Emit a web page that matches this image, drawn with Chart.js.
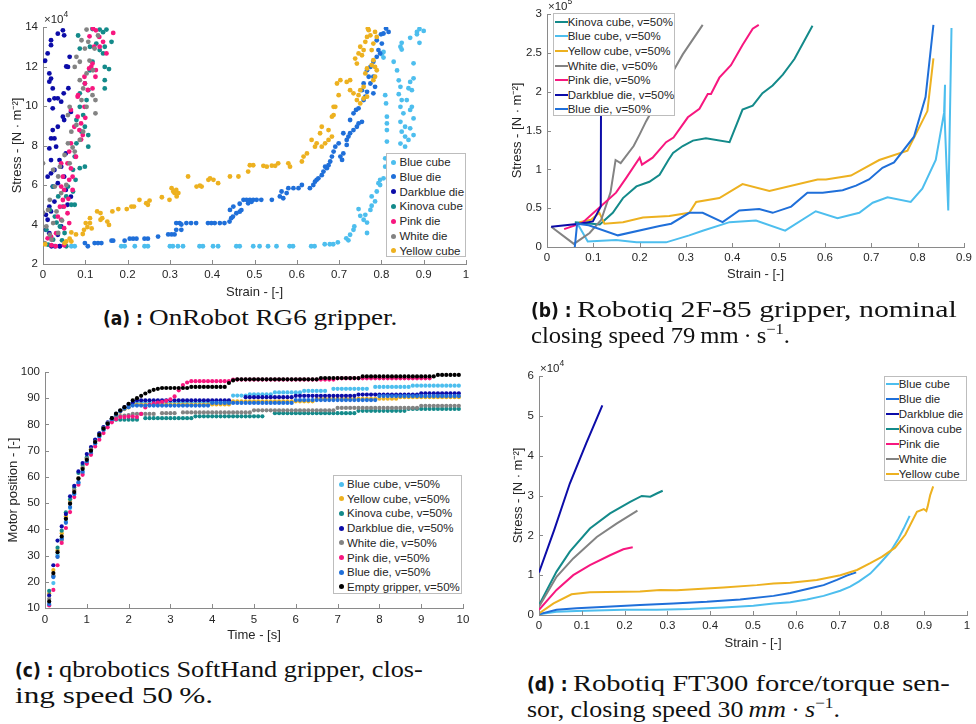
<!DOCTYPE html>
<html>
<head>
<meta charset="utf-8">
<title>Gripper stress-strain</title>
<script src="https://cdn.jsdelivr.net/npm/chart.js@4.4.1/dist/chart.umd.min.js"></script>
<style>
  body { margin: 0; background: #fff; width: 976px; height: 724px; position: relative; overflow: hidden;
         font-family: "Liberation Sans", Arial, sans-serif; }
  canvas { position: absolute; }
  .legend { position: absolute; background: #fff; border: 1px solid #bdbdbd; box-sizing: border-box; color: #262626; z-index: 2; }
  .cap { position: absolute; font-family: "Liberation Serif", "Times New Roman", serif; font-size: 22.5px;
         line-height: 26px; color: #111; white-space: nowrap; }
  .cap b { font-family: "DejaVu Sans Condensed", "DejaVu Sans", sans-serif; font-stretch: condensed; font-size: 19px; }
  .cap .t { display: inline-block; transform-origin: 0 50%; }
  .cap sup { font-size: 15px; line-height: 0; vertical-align: 9px; }
</style>
</head>
<body>
<canvas id="ca" width="480" height="300" style="left:0;top:0"></canvas>
<canvas id="cb" width="486" height="300" style="left:490px;top:0"></canvas>
<canvas id="cc" width="480" height="300" style="left:0;top:355px"></canvas>
<canvas id="cd" width="486" height="300" style="left:490px;top:355px"></canvas>

<!-- captions: data-end is the right edge each line reaches in the typeset figure -->
<div class="cap" data-end="397" style="left:103px;top:305px"><b>(a) :</b> <span class="t">OnRobot RG6 gripper.</span></div>
<div class="cap" data-end="957" style="left:531px;top:297px"><b>(b) :</b> <span class="t">Robotiq 2F-85 gripper, nominal</span></div>
<div class="cap" data-end="790" style="left:531px;top:323px"><span class="t">closing speed 79&thinsp;mm&thinsp;·&thinsp;s<sup>−1</sup>.</span></div>
<div class="cap" data-end="423" style="left:15px;top:657px"><b>(c) :</b> <span class="t">qbrobotics SoftHand gripper, clos-</span></div>
<div class="cap" data-end="213" style="left:15px;top:683px"><span class="t">ing speed 50&thinsp;%.</span></div>
<div class="cap" data-end="950" style="left:527px;top:671px"><b>(d) :</b> <span class="t">Robotiq FT300 force/torque sen-</span></div>
<div class="cap" data-end="840" style="left:527px;top:697px"><span class="t">sor, closing speed 30&thinsp;<i>mm</i>&thinsp;·&thinsp;<i>s</i><sup>−1</sup>.</span></div>

<script>
// colours used in every panel
const colBlueCube = '#4dbeee';
const colBlueDie = '#1f6fd9';
const colDarkblue = '#0c0ca8';
const colKinova = '#138a8a';
const colPink = '#f7177f';
const colWhite = '#838383';
const colYellow = '#edb120';
const colEmpty = '#000000';

// ---------- (a) OnRobot RG6: [strain, stress x1e4] ----------
const aBlueCube = [[0.067,2.9],[0.075,2.9],[0.185,2.9],[0.193,2.9],[0.217,2.9],[0.24,2.9],[0.248,2.9],[0.3,2.9],[0.307,2.9],
  [0.319,2.9],[0.331,2.9],[0.37,2.9],[0.378,2.9],[0.402,2.9],[0.414,2.9],[0.457,2.9],[0.465,2.9],[0.497,2.9],[0.512,2.9],
  [0.532,2.9],[0.552,2.9],[0.583,2.9],[0.591,2.9],[0.634,2.9],[0.642,2.9],[0.666,3.0],[0.678,3.0],[0.686,3.0],[0.697,3.1],
  [0.717,3.3],[0.722,3.2],[0.726,3.48],[0.734,3.73],[0.736,3.9],[0.746,4.78],[0.75,4.44],[0.758,4.24],[0.762,4.49],[0.766,3.57],
  [0.766,4.1],[0.774,4.74],[0.777,4.95],[0.777,5.42],[0.785,5.17],[0.789,5.67],[0.793,6.09],[0.797,6.26],[0.805,6.34],[0.797,6.0],
  [0.809,6.93],[0.809,7.35],[0.813,8.2],[0.813,8.78],[0.813,9.12],[0.813,9.46],[0.811,10.13],[0.809,10.55],[0.805,12.45],
  [0.805,12.74],[0.801,12.62],[0.829,12.24],[0.837,11.8],[0.841,11.3],[0.845,10.97],[0.841,10.6],[0.848,10.3],[0.845,9.96],
  [0.852,9.63],[0.845,9.2],[0.856,8.95],[0.848,8.7],[0.856,8.45],[0.845,8.1],[0.856,7.94],[0.864,8.28],[0.868,8.87],[0.868,9.8],
  [0.86,10.3],[0.864,10.9],[0.868,11.22],[0.872,10.8],[0.876,11.4],[0.876,12.16],[0.872,9.96],[0.876,9.37],[0.876,8.53],
  [0.864,7.44],[0.845,13.0],[0.848,13.2],[0.868,13.45],[0.884,13.75],[0.89,13.9],[0.9,13.8],[0.89,13.2],[0.884,13.63],[0.848,12.86]];
const aBlueDie = [[0.028,2.9],[0.039,2.9],[0.099,3.06],[0.106,2.9],[0.122,3.06],[0.13,3.06],[0.138,3.06],[0.162,3.18],[0.166,3.18],
  [0.193,3.18],[0.205,3.28],[0.213,3.28],[0.221,3.28],[0.24,3.28],[0.248,3.28],[0.272,3.39],[0.296,3.5],[0.304,3.5],[0.311,3.5],
  [0.315,3.73],[0.327,3.73],[0.315,4.07],[0.323,4.07],[0.327,4.0],[0.339,4.07],[0.35,4.07],[0.362,4.07],[0.39,4.07],[0.398,4.07],
  [0.406,4.07],[0.418,4.07],[0.429,4.07],[0.441,4.15],[0.445,4.32],[0.449,4.4],[0.457,4.57],[0.465,4.65],[0.469,4.73],[0.465,5.05],
  [0.474,5.25],[0.481,5.25],[0.489,5.25],[0.497,5.25],[0.485,5.07],[0.493,5.15],[0.505,5.25],[0.516,5.25],[0.442,4.74],[0.45,4.91],
  [0.541,5.25],[0.56,5.42],[0.564,5.67],[0.568,5.33],[0.576,5.59],[0.58,5.84],[0.592,5.84],[0.604,5.84],[0.612,6.0],[0.631,5.84],
  [0.639,6.0],[0.643,6.17],[0.647,6.26],[0.651,6.34],[0.659,6.5],[0.663,6.68],[0.667,6.93],[0.671,6.85],[0.675,7.0],[0.679,7.19],
  [0.683,7.44],[0.687,7.69],[0.691,7.94],[0.699,8.11],[0.703,7.44],[0.707,7.27],[0.71,7.6],[0.718,8.28],[0.722,8.45],[0.726,8.62],
  [0.734,8.78],[0.742,8.95],[0.746,9.12],[0.754,9.2],[0.726,9.29],[0.734,9.63],[0.74,9.8],[0.746,9.88],[0.758,10.3],[0.762,10.47],
  [0.766,10.72],[0.774,11.14],[0.77,11.48],[0.766,11.81],[0.774,11.98],[0.781,12.24],[0.789,12.49],[0.797,12.66],[0.793,12.83],
  [0.801,13.16],[0.805,13.67],[0.811,13.92],[0.817,13.75],[0.781,11.48],[0.785,10.97],[0.781,10.64],[0.754,10.8],[0.758,11.14],
  [0.71,8.62],[0.718,8.03],[0.789,13.33],[0.799,13.63]];
const aDarkblueDie = [[0.047,13.83],[0.05,13.58],[0.035,13.66],[0.019,13.33],[0.019,13.08],[0.011,12.66],[0.005,12.29],[0.015,11.65],
  [0.019,11.39],[0.015,11.23],[0.023,10.89],[0.015,10.3],[0.027,10.39],[0.023,9.88],[0.035,10.39],[0.043,10.22],[0.047,9.46],
  [0.05,9.29],[0.035,8.95],[0.023,8.78],[0.019,8.36],[0.027,8.36],[0.031,7.94],[0.015,7.85],[0.019,7.26],[0.039,7.26],[0.043,6.93],
  [0.05,6.42],[0.054,7.6],[0.027,6.76],[0.019,6.59],[0.011,6.42],[0.023,5.92],[0.035,6.09],[0.054,5.75],[0.066,5.41],[0.015,4.91],
  [0.019,4.66],[0.027,5.16],[0.058,5.0],[0.007,4.49],[0.011,4.24],[0.043,3.9],[0.007,3.73],[0.015,3.56],[0.035,3.48],[0.063,12.49],
  [0.059,11.98],[0.049,10.64],[0.02,2.9],[0.04,2.9],[0.055,12.0],[0.06,10.9],[0.066,9.7]];
const aKinovaCube = [[0.083,13.57],[0.117,13.9],[0.134,13.87],[0.15,13.87],[0.142,13.74],[0.087,12.91],[0.111,13.0],[0.126,13.16],
  [0.134,12.83],[0.146,13.0],[0.162,13.25],[0.142,12.66],[0.146,11.98],[0.156,11.87],[0.146,11.31],[0.146,10.89],[0.117,12.24],
  [0.111,11.81],[0.099,11.14],[0.107,10.8],[0.087,10.64],[0.103,10.3],[0.087,9.96],[0.095,9.54],[0.079,9.29],[0.099,8.95],
  [0.091,8.7],[0.107,8.53],[0.107,7.94],[0.079,8.11],[0.075,7.44],[0.099,6.93],[0.087,6.85],[0.071,6.77],[0.077,6.26],[0.059,5.92],
  [0.071,5.67],[0.055,5.42],[0.067,5.0],[0.075,5.0],[0.047,4.91],[0.024,5.92],[0.036,5.42],[0.016,4.74],[0.028,4.4],[0.04,3.9],
  [0.051,3.57],[0.008,3.73],[0.024,3.23],[0.045,3.2],[0.012,2.98],[0.055,2.9],[0.032,4.1]];
const aPinkDie = [[0.11,13.53],[0.125,13.83],[0.133,13.5],[0.121,13.0],[0.114,11.99],[0.125,11.82],[0.098,11.48],[0.106,10.81],
  [0.082,10.47],[0.098,9.96],[0.066,9.8],[0.082,9.46],[0.09,9.12],[0.074,8.95],[0.086,8.78],[0.094,8.53],[0.066,8.11],[0.062,7.69],
  [0.078,7.43],[0.043,7.1],[0.058,7.1],[0.066,6.84],[0.047,6.42],[0.062,6.26],[0.07,6.42],[0.043,5.92],[0.05,5.75],[0.07,5.75],
  [0.047,5.24],[0.05,4.91],[0.058,4.57],[0.035,4.4],[0.043,4.24],[0.062,4.07],[0.05,3.81],[0.031,3.56],[0.019,3.39],[0.011,3.3],
  [0.118,13.92],[0.166,13.7],[0.142,13.25],[0.134,13.0],[0.15,12.66],[0.117,12.15],[0.109,11.9],[0.124,11.48],[0.099,11.14],
  [0.117,10.89],[0.083,10.55],[0.02,2.95],[0.03,2.9],[0.05,2.95],[0.09,8.3],[0.1,9.4],[0.06,5.3],[0.04,4.9]];
const aWhiteDie = [[0.103,13.87],[0.091,13.33],[0.107,13.25],[0.099,12.91],[0.122,12.91],[0.13,13.57],[0.079,12.49],[0.087,12.24],
  [0.075,11.98],[0.103,11.65],[0.118,11.81],[0.087,11.31],[0.095,10.89],[0.117,10.55],[0.124,10.3],[0.103,9.96],[0.124,9.63],
  [0.091,10.3],[0.063,9.96],[0.059,9.54],[0.079,9.04],[0.067,8.7],[0.095,8.7],[0.087,8.28],[0.059,8.11],[0.075,7.69],[0.051,7.52],
  [0.063,7.1],[0.04,6.93],[0.024,6.77],[0.0,7.1],[0.036,6.43],[0.028,5.92],[0.055,6.0],[0.043,5.59],[0.016,5.25],[0.012,4.74],
  [0.032,4.66],[0.024,4.07],[0.008,3.9],[0.036,3.57],[0.016,3.48],[0.004,3.06],[0.02,3.23],[0.0,4.6],[0.045,4.2],[0.11,12.3],[0.07,7.9]];
const aYellowCube = [[0.005,3.0],[0.051,3.06],[0.055,3.14],[0.063,3.28],[0.067,3.14],[0.067,3.6],[0.078,3.5],[0.094,3.52],[0.097,3.73],
  [0.105,3.87],[0.101,4.07],[0.111,4.07],[0.115,3.8],[0.111,4.32],[0.128,4.66],[0.136,4.58],[0.14,4.32],[0.136,4.24],[0.152,4.15],
  [0.156,3.98],[0.164,4.66],[0.178,4.78],[0.198,4.78],[0.209,4.91],[0.215,4.91],[0.228,5.25],[0.244,5.08],[0.248,5.0],[0.252,5.21],
  [0.281,5.38],[0.299,5.25],[0.311,5.59],[0.315,5.75],[0.304,5.84],[0.308,5.67],[0.316,5.42],[0.32,5.59],[0.363,5.92],[0.371,5.97],
  [0.375,5.92],[0.343,6.43],[0.391,6.26],[0.395,6.34],[0.403,6.26],[0.414,6.09],[0.442,6.43],[0.462,6.43],[0.485,6.68],[0.489,7.0],
  [0.497,7.0],[0.521,6.97],[0.529,6.93],[0.541,6.98],[0.549,6.97],[0.556,7.1],[0.58,7.1],[0.584,6.93],[0.612,7.19],[0.616,7.44],
  [0.624,7.6],[0.635,8.28],[0.643,7.94],[0.647,8.11],[0.659,7.94],[0.667,8.11],[0.675,8.28],[0.683,8.45],[0.655,8.62],[0.659,8.95],
  [0.675,8.78],[0.683,9.46],[0.687,9.54],[0.687,9.96],[0.691,9.96],[0.699,10.55],[0.695,11.14],[0.703,11.31],[0.718,11.22],
  [0.726,11.31],[0.726,10.8],[0.734,10.64],[0.742,10.3],[0.75,10.13],[0.746,10.55],[0.758,10.38],[0.75,10.8],[0.758,10.97],
  [0.766,10.47],[0.738,12.4],[0.742,12.15],[0.746,12.66],[0.75,13.0],[0.754,12.57],[0.758,12.83],[0.762,13.25],[0.766,13.5],
  [0.77,13.84],[0.774,13.58],[0.762,11.65],[0.766,11.9],[0.777,12.07],[0.781,12.32],[0.785,11.98],[0.789,11.81],[0.777,12.83],
  [0.781,13.16],[0.785,13.75],[0.789,13.5],[0.785,11.48],[0.781,11.31],[0.768,13.92]];

// ---------- (b) Robotiq 2F-85: strain / stress x1e5 ----------
const bKinovaX = [0.06,0.114,0.142,0.164,0.193,0.221,0.243,0.262,0.272,0.293,0.315,0.343,0.394,0.422,0.444,0.465,0.487,0.509,0.534,0.573];
const bKinovaY = [0.32,0.29,0.44,0.63,0.78,0.84,0.93,1.12,1.21,1.30,1.37,1.40,1.35,1.77,1.82,1.98,2.08,2.22,2.42,2.85];
const bBlueCubeX = [0.065,0.088,0.149,0.193,0.257,0.307,0.336,0.394,0.451,0.514,0.58,0.627,0.674,0.703,0.735,0.785,0.81,0.839,0.857,0.859,0.858,0.866,0.873];
const bBlueCubeY = [0.31,0.07,0.09,0.06,0.06,0.15,0.21,0.32,0.34,0.21,0.46,0.37,0.44,0.57,0.64,0.58,0.75,1.12,1.73,2.09,1.70,0.47,2.82];
const bYellowX = [0.07,0.095,0.113,0.124,0.164,0.207,0.264,0.307,0.322,0.372,0.422,0.48,0.584,0.602,0.656,0.717,0.778,0.821,0.834];
const bYellowY = [0.32,0.35,0.44,0.30,0.32,0.38,0.40,0.44,0.58,0.63,0.81,0.72,0.87,0.87,0.92,1.12,1.24,1.75,2.43];
const bWhiteX = [0.009,0.058,0.092,0.117,0.137,0.148,0.159,0.187,0.2,0.214,0.245,0.272,0.293,0.336];
const bWhiteY = [0.26,0.04,0.18,0.35,0.70,1.12,1.08,1.30,1.45,1.62,1.95,2.26,2.48,2.86];
const bPinkX = [0.037,0.076,0.121,0.149,0.171,0.2,0.205,0.228,0.257,0.273,0.304,0.329,0.347,0.354,0.372,0.397,0.422,0.444,0.457];
const bPinkY = [0.23,0.31,0.55,0.70,0.89,1.15,1.06,1.15,1.35,1.41,1.67,1.78,1.97,1.97,2.18,2.34,2.60,2.81,2.86];
const bDarkblueX = [0.009,0.07,0.099,0.116,0.117];
const bDarkblueY = [0.26,0.30,0.33,0.52,2.80];
const bBlueDieX = [0.06,0.065,0.09,0.153,0.243,0.268,0.307,0.336,0.379,0.415,0.458,0.487,0.527,0.562,0.595,0.638,0.667,0.695,0.724,0.749,0.792,0.817,0.834];
const bBlueDieY = [0.0,0.30,0.28,0.15,0.27,0.30,0.44,0.44,0.32,0.47,0.49,0.44,0.52,0.70,0.70,0.73,0.79,0.87,1.02,1.09,1.42,1.93,2.86];

// ---------- (c) qbrobotics SoftHand: time [s] / motor position ----------
const cTime = [0.1,0.2,0.3,0.4,0.5,0.6,0.7,0.8,0.9,1.0,1.1,1.2,1.3,1.4,1.5,1.6,1.7,1.8,1.9,2.0,
  2.1,2.2,2.3,2.4,2.5,2.6,2.7,2.8,2.9,3.0,3.1,3.2,3.3,3.4,3.5,3.6,3.7,3.8,3.9,4.0,
  4.1,4.2,4.3,4.4,4.5,4.6,4.7,4.8,4.9,5.0,5.1,5.2,5.3,5.4,5.5,5.6,5.7,5.8,5.9,6.0,
  6.1,6.2,6.3,6.4,6.5,6.6,6.7,6.8,6.9,7.0,7.1,7.2,7.3,7.4,7.5,7.6,7.7,7.8,7.9,8.0,
  8.1,8.2,8.3,8.4,8.5,8.6,8.7,8.8,8.9,9.0,9.1,9.2,9.3,9.4,9.5,9.6,9.7,9.8,9.9];
const cBlueCube = [11.2,19.5,30.3,36,43,48.1,53.5,57.6,61.5,65.5,69,72.5,75.3,77.8,80,82,83.5,85,86,87,
  88.5,88.5,88.5,88.5,88.5,88.5,88.5,88.5,88.5,88.5,88.5,88.5,88.5,88.5,88.5,88.5,88.5,88.5,88.5,88.5,
  88.5,88.5,88.5,88.5,91,91,91,91,91.5,91.5,91.5,91.5,91.5,91.5,92.2,92.2,92.2,92.2,92.2,92.2,
  92.2,92.8,92.8,92.8,92.8,92.8,92.8,null,93.6,93.6,93.6,93.6,93.6,93.6,93.6,93.6,93.6,null,94.3,94.3,
  94.3,94.3,94.3,94.3,94.3,94.3,94.3,94.8,94.8,94.8,94.8,94.8,94.8,94.8,94.8,94.8,94.8,94.8,94.8];
const cYellowCube = [15.5,24.5,32,38.5,45,50.5,55,59.5,63.5,67,70.5,73.5,76,78.6,80.5,82.3,83.8,84.8,85.8,86.5,
  87.6,87.6,87.6,87.6,87.6,87.6,87.6,87.6,87.6,87.6,87.6,87.6,87.6,87.6,87.6,87.6,87.6,87.6,87.6,87.6,
  87.6,87.6,87.6,87.6,88.8,88.8,88.8,88.8,88.8,88.8,88.8,88.8,88.8,88.8,88.8,88.8,88.8,88.8,88.8,88.8,
  88.8,88.8,88.8,88.8,89.8,89.8,89.8,89.8,89.8,89.8,89.8,89.8,89.8,89.8,89.8,89.8,89.8,89.8,89.8,89.8,
  89.8,89.8,89.8,89.8,90.4,90.4,90.4,90.4,90.4,90.4,90.4,90.4,90.4,90.4,90.4,90.4,90.4,90.4,90.4];
const cKinovaCube = [16.5,22,33,39.5,46.5,51.5,56,61.5,64.5,67.5,71,74,76.5,78.8,80.5,81.6,81.8,81.8,81.8,81.8,
  81.8,81.8,null,82.4,82.4,82.4,82.4,82.4,82.4,82.4,82.4,82.4,82.4,82.4,82.4,83.1,83.1,83.1,83.1,83.1,
  83.1,83.1,83.1,83.1,83.1,83.1,83.1,83.1,83.1,83.1,83.1,83.1,null,null,84.3,84.3,84.3,84.3,84.3,84.3,
  84.3,84.3,84.3,84.3,84.3,84.3,84.3,84.3,84.3,84.3,84.3,84.3,84.3,84.3,85.2,85.2,85.2,85.2,85.2,85.2,
  85.2,85.2,85.2,85.2,85.2,85.2,85.9,85.9,85.9,85.9,85.9,85.9,85.9,85.9,85.9,85.9,85.9,85.9,85.9];
const cDarkblueDie = [14.8,26.3,35.7,41.1,45.8,52.6,56.6,62.1,65.3,68.7,71.4,74.2,76.6,79,80.8,82.4,84,85.2,86.5,87.5,
  88.4,89.2,89.2,89.2,89.2,89.2,89.2,89.2,89.2,89.2,89.2,89.2,89.2,89.2,89.2,89.2,89.2,89.2,89.2,89.2,
  89.2,89.2,89.2,89.2,null,null,null,90.4,90.4,90.4,90.4,90.4,90.4,90.4,90.4,90.4,90.4,90.4,90.4,90.9,
  90.9,90.9,90.9,90.9,90.9,90.9,90.9,90.9,90.9,90.9,90.9,90.9,90.9,90.9,91.4,91.4,91.4,91.4,91.4,91.4,
  91.4,91.4,91.4,91.4,91.4,91.4,91.4,91.4,91.4,91.9,91.9,91.9,91.9,91.9,91.9,91.9,91.9,91.9,91.9];
const cWhiteDie = [13.5,22.5,29.5,36,44,50,55,59.5,63.5,67,70.5,73.5,76,78.5,80.5,82,82.8,83.2,83.4,83.6,
  84,84,84,84,84,84,null,84.3,84.3,84.3,84.3,null,84.6,84.6,84.6,84.6,84.6,84.6,84.6,84.6,
  84.6,84.6,84.6,84.6,84.6,84.6,84.6,84.6,84.6,85.4,85.4,85.4,85.4,85.4,85.4,85.4,85.4,85.4,85.4,85.4,
  85.4,85.4,85.4,85.4,85.4,85.4,85.4,85.4,85.4,86.3,86.3,86.3,86.3,86.3,86.3,86.3,86.3,86.3,86.3,86.3,
  86.3,86.3,86.3,86.3,86.3,86.3,86.3,86.3,86.3,87.1,87.1,87.1,87.1,87.1,87.1,87.1,87.1,87.1,87.1];
const cPinkDie = [11,16.9,26.3,34.8,40.5,46.6,52.3,57,60.8,65,68.4,71.6,74.2,76.7,78.9,80.8,82,82.8,82.8,83,
  83,82.8,84,86.5,87.5,88,88.3,88.6,89,89.6,90.7,93,95,96,96.5,96.5,96.5,96.5,96.5,96.5,
  96.5,96.5,96.5,96.5,97.1,97.1,97.1,97.1,97.1,97.1,97.1,97.1,97.1,97.1,97.1,97.1,97.1,97.1,97.1,97.1,
  97.1,97.1,97.1,97.1,97.1,97.1,97.1,97.1,97.1,97.6,97.6,97.6,97.6,97.6,97.6,97.6,97.6,97.6,97.6,97.6,
  97.6,97.6,97.6,97.6,97.6,97.6,97.6,97.6,97.6,97.6,97.6,97.6,null,null,null,null,null,null,null];
const cBlueDie = [11.5,21.8,29.5,36.5,42.5,48.5,53.5,58,62,66,69.5,72.8,75.5,78,80.2,82,83.8,85,86,86.6,
  87.2,87.2,87.2,87.2,87.2,87.2,87.2,87.2,87.2,87.2,87.2,87.2,87.2,87.2,87.2,87.2,87.2,87.2,87.2,88.2,
  88.2,88.2,88.2,88.2,88.2,88.2,88.2,88.2,88.2,88.2,88.2,88.2,88.2,88.2,88.2,88.2,88.2,88.2,88.2,89.3,
  89.3,89.3,89.3,89.3,89.3,89.3,89.3,89.3,89.3,89.3,89.3,89.3,89.3,89.3,89.3,89.3,89.3,89.3,89.3,90.8,
  90.8,90.8,90.8,90.8,90.8,90.8,90.8,90.8,90.8,90.8,90.8,90.8,90.8,90.8,90.8,90.8,90.8,90.8,90.8];
const cEmptyGripper = [12.5,23.3,31.3,37.3,44,49.8,54.2,59.3,63,66.5,70,73.3,76,78.4,80.3,82.4,84.1,85.4,86.6,87.9,
  89.2,90,90.9,91.8,92.6,93.2,93.6,93.9,93.9,93.9,93.9,93.9,93.9,93.9,94.3,94.3,94.3,94.3,94.3,94.3,
  94.3,94.3,94.3,95.8,96.8,97.2,97.2,97.2,97.2,97.2,97.2,97.2,97.2,97.2,97.2,97.2,97.2,97.2,97.2,97.2,
  97.2,97.2,97.2,97.2,97.2,97.7,97.7,97.7,97.7,97.7,97.7,97.7,97.7,97.7,97.7,98.3,98.3,98.3,98.3,98.3,
  98.3,98.3,98.3,98.3,98.3,98.3,98.3,98.3,98.3,98.3,98.3,98.3,98.3,98.9,98.9,98.9,98.9,98.9,98.9];

// ---------- (d) Robotiq FT300: strain / stress x1e4 ----------
const dBlueCubeX = [0,0.041,0.088,0.197,0.275,0.353,0.431,0.501,0.548,0.587,0.626,0.665,0.704,0.727,0.747,0.774,0.797,0.821,0.84,0.852,0.866];
const dBlueCubeY = [0.02,0.08,0.10,0.13,0.13,0.15,0.19,0.23,0.29,0.32,0.39,0.48,0.61,0.71,0.84,1.04,1.30,1.59,1.92,2.17,2.49];
const dBlueDieX = [0,0.041,0.088,0.158,0.236,0.314,0.392,0.47,0.548,0.587,0.634,0.665,0.696,0.719,0.741];
const dBlueDieY = [0.02,0.13,0.17,0.21,0.25,0.29,0.33,0.39,0.48,0.55,0.67,0.75,0.88,0.99,1.07];
const dDarkblueX = [0,0.036,0.072,0.11,0.148];
const dDarkblueY = [1.07,2.15,3.3,4.3,5.26];
const dKinovaX = [0,0.041,0.072,0.119,0.166,0.213,0.24,0.26,0.275,0.289];
const dKinovaY = [0.25,1.09,1.59,2.17,2.55,2.84,2.99,2.97,3.05,3.12];
const dPinkX = [0,0.041,0.08,0.119,0.166,0.197,0.219];
const dPinkY = [0.13,0.63,1.0,1.25,1.5,1.65,1.70];
const dWhiteX = [0,0.041,0.08,0.135,0.182,0.23];
const dWhiteY = [0.21,0.96,1.42,1.96,2.30,2.62];
const dYellowX = [0,0.034,0.076,0.119,0.158,0.236,0.283,0.322,0.431,0.509,0.548,0.587,0.649,0.704,0.743,0.774,0.801,0.832,0.856,0.883,0.899,0.905,0.908,0.914,0.921];
const dYellowY = [0.04,0.29,0.52,0.57,0.58,0.59,0.63,0.62,0.69,0.75,0.79,0.81,0.88,1.0,1.13,1.30,1.46,1.69,2.02,2.59,2.66,2.61,2.72,3.01,3.23];

Chart.defaults.font.family = "'Liberation Sans', Arial, sans-serif";
Chart.defaults.color = '#262626';

// MATLAB-like inward ticks and the "x10^n" exponent above the y axis
const matlabAxes = {
  id: 'matlabAxes',
  afterDraw(chart, args, opts) {
    const {ctx, chartArea: a, scales} = chart;
    ctx.save();
    ctx.strokeStyle = '#8a8a8a';
    ctx.lineWidth = 1;
    ctx.beginPath();
    scales.x.ticks.forEach((t, i) => {
      const px = Math.round(scales.x.getPixelForTick(i)) + 0.5;
      ctx.moveTo(px, a.bottom); ctx.lineTo(px, a.bottom - 4);
    });
    scales.y.ticks.forEach((t, i) => {
      const py = Math.round(scales.y.getPixelForTick(i)) + 0.5;
      ctx.moveTo(a.left, py); ctx.lineTo(a.left + 4, py);
    });
    ctx.stroke();
    if (opts.exp) {
      ctx.fillStyle = '#262626';
      ctx.font = "11.5px 'Liberation Sans', Arial";
      ctx.textBaseline = 'alphabetic';
      const base = a.top - 4;
      ctx.fillText('×10', a.left + 1, base);
      const w = ctx.measureText('×10').width;
      ctx.font = "8.5px 'Liberation Sans', Arial";
      ctx.fillText(opts.exp, a.left + 1 + w, base - 6);
    }
    ctx.restore();
  }
};

function axis(o) {
  return {
    type: 'linear', min: o.min, max: o.max,
    ticks: { stepSize: o.step, padding: o.pad, autoSkip: false, maxRotation: 0, font: { size: 11.5 },
             callback: v => String(+v.toFixed(2)) },
    grid: { display: true, drawOnChartArea: false, drawTicks: false },
    border: { display: true, color: '#8a8a8a', width: 1 },
    title: { display: true, text: o.title, font: { size: 13 }, padding: o.titlePad },
    afterFit: s => { if (o.w) s.width = o.w; if (o.h) s.height = o.h; }
  };
}

function makeChart(id, datasets, p) {
  return new Chart(document.getElementById(id), {
    type: 'scatter',
    data: { datasets: datasets },
    options: {
      responsive: false, animation: false, events: [],
      layout: { padding: { top: p.top, right: p.right, left: 0, bottom: 0 } },
      plugins: { legend: { display: false }, tooltip: { enabled: false }, matlabAxes: { exp: p.exp } },
      scales: { x: axis(p.x), y: axis(p.y) }
    },
    plugins: [matlabAxes]
  });
}

// later series are drawn on top, as in MATLAB
function dots(list, r) {
  return list.map((s, i) => ({
    label: s.label, data: s.pts, backgroundColor: s.color, borderWidth: 0,
    pointRadius: r, pointHoverRadius: r, order: list.length - i
  }));
}
function lines(list) {
  return list.map((s, i) => ({
    label: s.label, data: s.xs.map((x, k) => ({ x: x, y: s.ys[k] })), borderColor: s.color,
    backgroundColor: s.color, borderWidth: 2, showLine: true, pointRadius: 0, order: list.length - i
  }));
}
const pairs = arr => arr.map(p => ({ x: p[0], y: p[1] }));
const timed = ys => cTime.map((t, i) => ({ x: t, y: ys[i] })).filter(p => p.y !== null);

function legend(box, items, kind) {
  const div = document.createElement('div');
  div.className = 'legend';
  div.style.cssText = `left:${box.left}px;top:${box.top}px;width:${box.width}px;height:${box.height}px;font-size:${box.font}px`;
  items.forEach((it, i) => {
    const cy = box.row0 + i * box.step - box.top - 1;
    const m = document.createElement('span');
    if (kind === 'dot') {
      m.style.cssText = `position:absolute;left:${box.mark - box.left - 3.5}px;top:${cy - 2.5}px;width:5px;height:5px;border-radius:50%;background:${it.color}`;
    } else {
      m.style.cssText = `position:absolute;left:${box.mark - box.left - 1}px;top:${cy - 1}px;width:${box.markW}px;height:2px;background:${it.color}`;
    }
    const t = document.createElement('span');
    t.textContent = it.label;
    t.style.cssText = `position:absolute;left:${box.text - box.left - 1}px;top:${cy - 8}px;line-height:16px;white-space:nowrap`;
    div.append(m, t);
  });
  document.body.appendChild(div);
}

// (a)
const seriesA = [
  { label: 'Blue cube', color: colBlueCube, pts: pairs(aBlueCube) },
  { label: 'Blue die', color: colBlueDie, pts: pairs(aBlueDie) },
  { label: 'Darkblue die', color: colDarkblue, pts: pairs(aDarkblueDie) },
  { label: 'Kinova cube', color: colKinova, pts: pairs(aKinovaCube) },
  { label: 'Pink die', color: colPink, pts: pairs(aPinkDie) },
  { label: 'White die', color: colWhite, pts: pairs(aWhiteDie) },
  { label: 'Yellow cube', color: colYellow, pts: pairs(aYellowCube) }
];
makeChart('ca', dots(seriesA, 2.4), {
  top: 27, right: 14, exp: '4',
  x: { min: 0, max: 1, step: 0.1, pad: 4, title: 'Strain - [-]', titlePad: { top: 0, bottom: 0 }, h: 36 },
  y: { min: 2, max: 14, step: 2, pad: 5, title: 'Stress - [N · m⁻²]', titlePad: { top: 10, bottom: 0 }, w: 43 }
});
legend({ left: 386, top: 153, width: 80, height: 104, font: 11.5, row0: 162, step: 14.8, mark: 393, text: 399.5 }, seriesA, 'dot');

// (b)
const seriesB = [
  { label: 'Kinova cube, v=50%', color: colKinova, xs: bKinovaX, ys: bKinovaY },
  { label: 'Blue cube, v=50%', color: colBlueCube, xs: bBlueCubeX, ys: bBlueCubeY },
  { label: 'Yellow cube, v=50%', color: colYellow, xs: bYellowX, ys: bYellowY },
  { label: 'White die, v=50%', color: colWhite, xs: bWhiteX, ys: bWhiteY },
  { label: 'Pink die, v=50%', color: colPink, xs: bPinkX, ys: bPinkY },
  { label: 'Darkblue die, v=50%', color: colDarkblue, xs: bDarkblueX, ys: bDarkblueY },
  { label: 'Blue die, v=50%', color: colBlueDie, xs: bBlueDieX, ys: bBlueDieY }
];
makeChart('cb', lines(seriesB), {
  top: 14, right: 11, exp: '5',
  x: { min: 0, max: 0.9, step: 0.1, pad: 4, title: 'Strain - [-]', titlePad: { top: 0, bottom: 18 }, h: 53 },
  y: { min: 0, max: 3, step: 0.5, pad: 5, title: 'Stress - [N · m⁻²]', titlePad: { top: 20, bottom: 0 }, w: 57 }
});
legend({ left: 553, top: 13, width: 122, height: 103, font: 11.5, row0: 21.7, step: 14.6, mark: 555, markW: 12.5, text: 567.7 }, seriesB, 'line');

// (c)
const seriesC = [
  { label: 'Blue cube, v=50%', color: colBlueCube, pts: timed(cBlueCube) },
  { label: 'Yellow cube, v=50%', color: colYellow, pts: timed(cYellowCube) },
  { label: 'Kinova cube, v=50%', color: colKinova, pts: timed(cKinovaCube) },
  { label: 'Darkblue die, v=50%', color: colDarkblue, pts: timed(cDarkblueDie) },
  { label: 'White die, v=50%', color: colWhite, pts: timed(cWhiteDie) },
  { label: 'Pink die, v=50%', color: colPink, pts: timed(cPinkDie) },
  { label: 'Blue die, v=50%', color: colBlueDie, pts: timed(cBlueDie) },
  { label: 'Empty gripper, v=50%', color: colEmpty, pts: timed(cEmptyGripper) }
];
makeChart('cc', dots(seriesC, 2.1), {
  top: 17, right: 17,
  x: { min: 0, max: 10, step: 1, pad: 5, title: 'Time - [s]', titlePad: { top: 0, bottom: 12 }, h: 47 },
  y: { min: 10, max: 100, step: 10, pad: 5, title: 'Motor position - [-]', titlePad: { top: 6, bottom: 0 }, w: 45 }
});
legend({ left: 333, top: 475, width: 129, height: 119, font: 11.5, row0: 484, step: 14.7, mark: 341, text: 347 }, seriesC, 'dot');

// (d)
const seriesD = [
  { label: 'Blue cube', color: colBlueCube, xs: dBlueCubeX, ys: dBlueCubeY },
  { label: 'Blue die', color: colBlueDie, xs: dBlueDieX, ys: dBlueDieY },
  { label: 'Darkblue die', color: colDarkblue, xs: dDarkblueX, ys: dDarkblueY },
  { label: 'Kinova cube', color: colKinova, xs: dKinovaX, ys: dKinovaY },
  { label: 'Pink die', color: colPink, xs: dPinkX, ys: dPinkY },
  { label: 'White die', color: colWhite, xs: dWhiteX, ys: dWhiteY },
  { label: 'Yellow cube', color: colYellow, xs: dYellowX, ys: dYellowY }
];
makeChart('cd', lines(seriesD), {
  top: 21, right: 9, exp: '4',
  x: { min: 0, max: 1, step: 0.1, pad: 4, title: 'Strain - [-]', titlePad: { top: 0, bottom: 4 }, h: 40 },
  y: { min: 0, max: 6, step: 1, pad: 5, title: 'Stress - [N · m⁻²]', titlePad: { top: 21, bottom: 0 }, w: 49 }
});
legend({ left: 884, top: 376, width: 83, height: 105, font: 11.5, row0: 384, step: 15, mark: 886, markW: 12.5, text: 898.7 }, seriesD, 'line');

// stretch the serif caption text so each line ends where the typeset (wider) original does
document.querySelectorAll('.cap').forEach(el => {
  const t = el.querySelector('.t');
  const r = t.getBoundingClientRect();
  t.style.transform = `scaleX(${((+el.dataset.end) - r.left) / r.width})`;
});
</script>
</body>
</html>
